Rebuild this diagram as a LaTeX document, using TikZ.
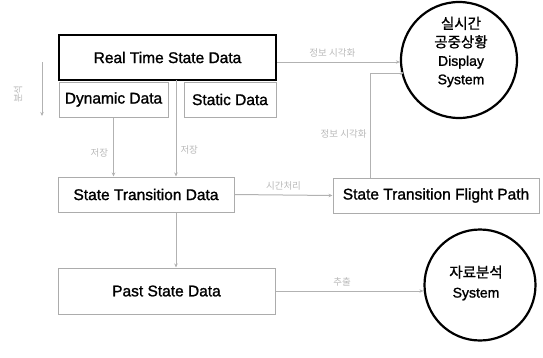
\documentclass[tikz,border=0pt]{standalone}
\usepackage{fontspec}
\setmainfont{Liberation Sans}
\newfontfamily\kr{Noto Sans CJK KR}[FakeBold=1]
\newfontfamily\krl{Noto Sans CJK KR}
\newfontfamily\lat{Liberation Sans}[FakeBold=1.3]
\usetikzlibrary{arrows.meta}
\begin{document}
\begin{tikzpicture}[x=1pt,y=-1pt,
  boxtext/.style={font=\lat\fontsize{15.5}{17}\selectfont},
  box/.style={boxtext,draw=gray!65,line width=1pt,inner sep=0pt},
  mainbox/.style={boxtext,draw=black,line width=2.2pt,inner sep=0pt},
  sys/.style={circle,draw=black,line width=2.2pt,inner sep=0pt},
  systext/.style={align=center,inner sep=0pt},
  conn/.style={draw=gray!60,line width=1pt},
  arr/.style={conn,-{Stealth[length=4pt,width=3.5pt]}},
  lbl/.style={text=gray!55,font=\krl\fontsize{9.5}{11}\selectfont,inner sep=1pt}]
\useasboundingbox (0,0) rectangle (543,357);
\node[mainbox,minimum width=217pt,minimum height=45pt] (rt) at (167.5,57.5) {Real Time State Data};
\node[box,minimum width=109pt,minimum height=35pt] (dyn) at (113.5,99.5) {Dynamic Data};
\node[box,minimum width=92pt,minimum height=35pt] (sta) at (230,99.5) {Static Data};
\node[box,minimum width=176pt,minimum height=35pt] (std) at (146,194.5) {State Transition Data};
\node[box,minimum width=217pt,minimum height=46pt] (past) at (166.5,291) {Past State Data};
\node[box,minimum width=206pt,minimum height=35pt] (fp) at (436,195.5) {State Transition Flight Path};
\node[sys,minimum size=116pt] (disp) at (459,60) {};
\node[systext,font=\lat\fontsize{14}{18.5}\selectfont] (dispt) at (461,52) {{\kr\fontsize{14.5}{18.5}\selectfont 실시간}\\{\kr\fontsize{14.5}{18.5}\selectfont 공중상황}\\Display\\System};
\node[sys,minimum size=111pt] (ana) at (480,285) {};
\node[systext,font=\lat\fontsize{14}{20}\selectfont] (anat) at (476,283) {{\kr\fontsize{14.5}{20}\selectfont 자료분석}\\System};
% connectors
\coordinate (rtb) at (176,80);
\draw[arr] (rtb) -- (rtb |- std.north) node[pos=0.72,right=3pt,lbl] {저장};
\draw[arr] (dyn.south) -- (dyn.south |- std.north) node[pos=0.6,left=4pt,lbl] {저장};
\draw[arr] (std.south -| rtb) -- (past.north -| rtb);
\draw[arr] (rt.east |- 0,62) -- (disp.west |- 0,62) node[pos=0.45,above=3pt,lbl] {정보 시각화};
\draw[arr] (std.east) -- (fp.west) node[pos=0.5,above=3pt,lbl] {시간처리};
\coordinate (fpt) at (370,178);
\coordinate (fpc) at (370,73);
\coordinate (dpe) at (404,73);
\draw[arr] (fpt) -- node[pos=0.42,left=2pt,lbl] {정보 시각화} (fpc) -- (dpe);
\draw[arr] (past.east) -- (ana.west |- past.east) node[pos=0.45,above=3pt,lbl] {추출};
% analysis side marker
\coordinate (a1) at (42,62);
\coordinate (a2) at (42,116);
\draw[arr] (a1) -- (a2);
\node[lbl,rotate=90] (an) at (18,94) {분석};
\end{tikzpicture}
\end{document}
